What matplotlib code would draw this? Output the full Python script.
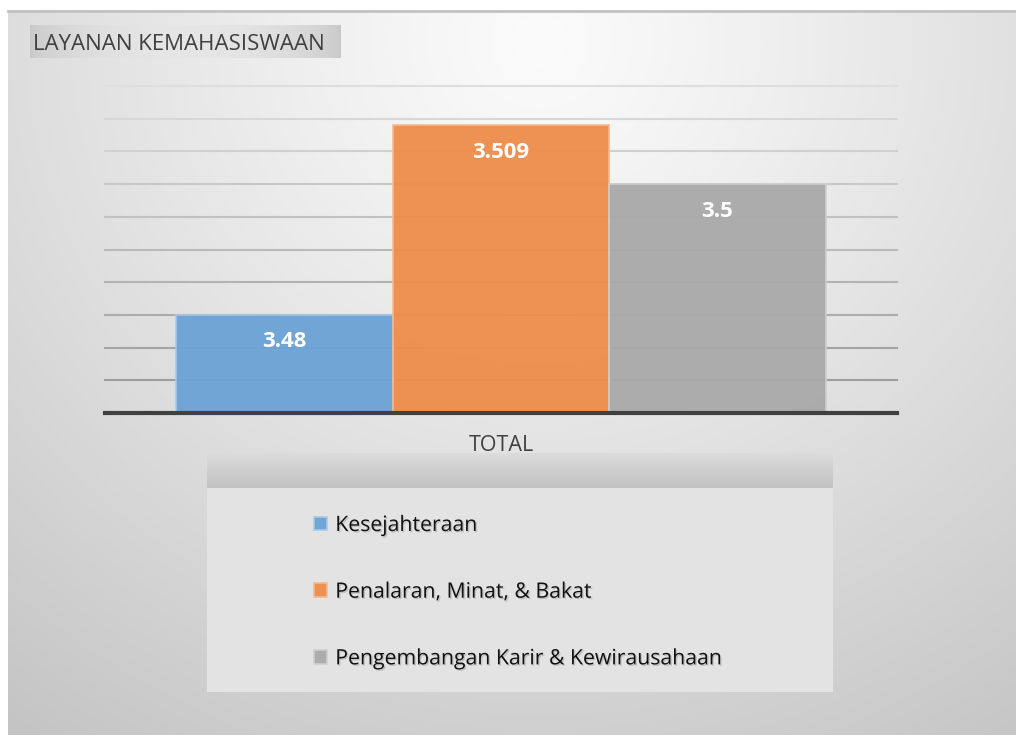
import numpy as np
import matplotlib
matplotlib.use("Agg")
import matplotlib.pyplot as plt
import matplotlib.patheffects as pe
from matplotlib.patches import Rectangle
from matplotlib.lines import Line2D

plt.rcParams['font.family'] = ['Open Sans', 'DejaVu Sans']

# ---- data ----
title = "LAYANAN KEMAHASISWAAN"
group_label = "TOTAL"
categories = ["Kesejahteraan", "Penalaran, Minat, & Bakat", "Pengembangan Karir & Kewirausahaan"]
values = [3.48, 3.509, 3.5]
value_labels = ["3.48", "3.509", "3.5"]
colors = ["#6aa2d6", "#ee8d4a", "#a9a9a9"]
edge_colors = ["#a9c9ea", "#f6b98f", "#cfcfcf"]
y_min, y_max, y_step = 3.465, 3.515, 0.005

W, H = 1016, 735
fig = plt.figure(figsize=(W / 100, H / 100), dpi=100)
fig.patch.set_facecolor("white")

def fx(px):
    return px / W

def fy(py):
    return 1 - py / H

# ---- background panel with radial gradient ----
bg = fig.add_axes([fx(8), 0, 1 - fx(8), fy(10)], zorder=-10)
bg.set_axis_off()
nx, ny = 504, 362
xx, yy = np.meshgrid(np.linspace(8, W, nx), np.linspace(10, H, ny))
d = np.sqrt(((xx - 540) / 1.0) ** 2 + ((yy - 40) / 0.95) ** 2)
t = np.clip(d / 900, 0, 1)
val = 251 - 55 * t ** 1.15
img = np.stack([val, val, val], axis=-1) / 255.0
bg.imshow(img, aspect='auto', extent=[0, 1, 0, 1], origin='upper', interpolation='bilinear')
bg.set_xlim(0, 1)
bg.set_ylim(0, 1)
# top border line
fig.add_artist(Line2D([fx(8), 1], [fy(10.5), fy(10.5)], color="#c2c2c2", lw=2, zorder=-5))

# ---- title box ----
tb = fig.add_axes([fx(30), fy(58), fx(341 - 30), (58 - 25) / H], zorder=-4)
tb.set_axis_off()
grad = np.linspace(0, 1, 200)
tv = 200 + 30 * np.sin(np.pi * grad) ** 0.6
tb.imshow(np.stack([tv, tv, tv], axis=-1)[None, :, :] / 255.0, aspect='auto', extent=[0, 1, 0, 1])
tb.set_xlim(0, 1); tb.set_ylim(0, 1)
fig.text(fx(33), fy(44.5), title, fontsize=16, color="#404040", va='center', ha='left')

# ---- legend box ----
lb = fig.add_axes([fx(207), fy(692), fx(833 - 207), (692 - 453) / H], zorder=-4)
lb.set_axis_off()
lb.add_patch(Rectangle((0, 0), 1, 1, facecolor="#e3e3e3", edgecolor="none", zorder=1))
hv = np.linspace(220, 194, 60)
hdr_h = (488 - 453) / (692 - 453)
lb.imshow(np.stack([hv, hv, hv], axis=-1)[:, None, :].repeat(2, axis=1) / 255.0, aspect='auto',
          extent=[0, 1, 1 - hdr_h, 1], zorder=2)
lb.set_xlim(0, 1); lb.set_ylim(0, 1)

# ---- main chart ----
ax = fig.add_axes([fx(105), fy(413), fx(897 - 105), (413 - 86) / H])
ax.set_facecolor("none")
x = np.arange(len(values))
bars = ax.bar(x, np.array(values) - y_min, bottom=y_min, width=1.0, color=colors,
              edgecolor=edge_colors, linewidth=1.2, alpha=0.95, zorder=3)
for b, c in zip(bars, categories):
    b.set_label(c)
ax.set_xlim(-0.83, 2.83)
ax.set_ylim(y_min, y_max)
yt = np.arange(y_min, y_max + y_step / 2, y_step)
ax.set_yticks(yt)
ax.yaxis.grid(True, zorder=0)
gl = ax.yaxis.get_gridlines()
gcols = np.linspace(150, 222, len(gl))
for g, cv in zip(gl, gcols):
    g.set_color((cv / 255, cv / 255, cv / 255))
    g.set_linewidth(1.5)
    g.set_clip_on(False)
ax.tick_params(axis='y', left=False, labelleft=False)
ax.set_xticks([1])
ax.set_xticklabels([group_label], fontsize=15.5, color="#404040")
ax.tick_params(axis='x', length=0, pad=16)
for s in ["top", "right", "left"]:
    ax.spines[s].set_visible(False)
ax.spines["bottom"].set_color("#404040")
ax.spines["bottom"].set_linewidth(3)
ax.spines["bottom"].set_zorder(4)

for b, lab in zip(bars, value_labels):
    ax.annotate(lab, (b.get_x() + b.get_width() / 2, b.get_y() + b.get_height()),
                xytext=(0, -27), textcoords='offset pixels', ha='center', va='center',
                color="white", fontsize=16, fontweight='bold', zorder=5)

leg = fig.legend(handles=list(bars), labels=categories, loc='upper left',
                 bbox_to_anchor=(fx(314), fy(515)), frameon=False, fontsize=15.3,
                 handlelength=0.6, handleheight=0.6, handletextpad=0.4,
                 labelspacing=2.15, borderpad=0, borderaxespad=0)
for txt in leg.get_texts():
    txt.set_color("#111111")
    txt.set_path_effects([pe.withSimplePatchShadow(offset=(1, -1), shadow_rgbFace="#707070", alpha=0.3)])

fig.savefig("out.png", dpi=100)
